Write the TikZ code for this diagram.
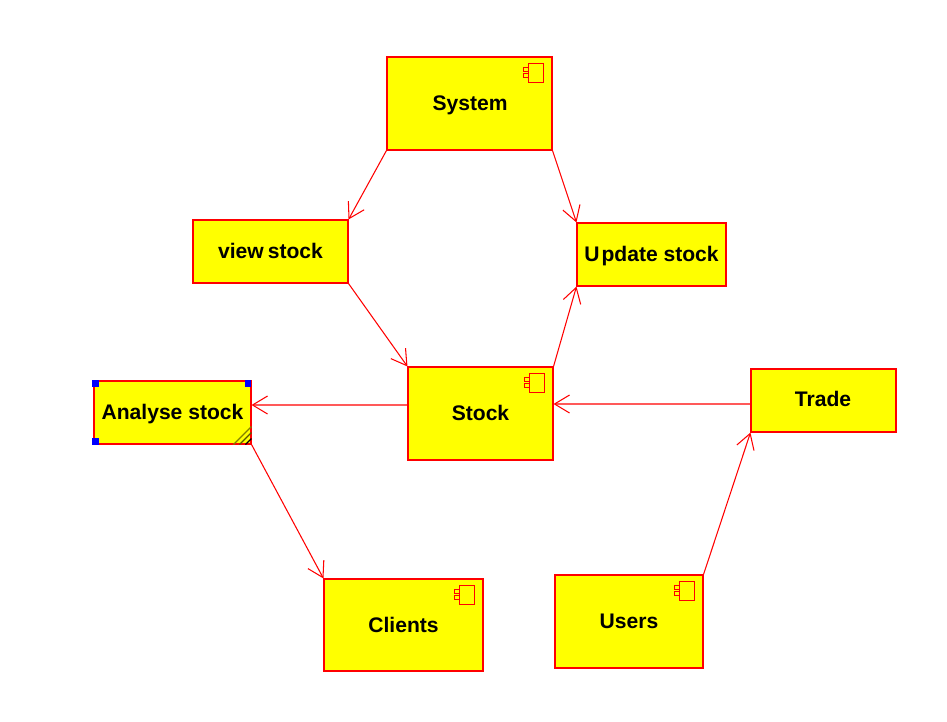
\documentclass[tikz,border=0pt]{standalone}
\usepackage{fontspec}
\setmainfont{Liberation Sans}
\usetikzlibrary{arrows.meta, positioning}
\definecolor{LinkRed}{RGB}{255,0,0}
\definecolor{BoxYellow}{RGB}{255,255,0}
\definecolor{HandleBlue}{RGB}{0,0,255}

\begin{document}
\begin{tikzpicture}
  [
    x=0.02cm, y=-0.02cm,
    Box/.style={rectangle, draw=LinkRed, fill=BoxYellow, line width=0.62pt, inner sep=0pt},
    Label/.style={inner sep=0pt, text=black, font=\fontsize{12pt}{14pt}\selectfont\bfseries},
    Link/.style={draw=LinkRed, line width=0.6pt, -{Straight Barb[length=0.3cm, width=0.36cm, line width=0.6pt]}},
    Icon/.style={draw=LinkRed, line width=0.75pt},
    Handle/.style={rectangle, fill=HandleBlue, minimum size=0.13cm, inner sep=0pt},
    Hatch/.style={line width=0.7pt}
  ]
  \useasboundingbox (0, 0) rectangle (947, 721);
  % Nodes
  \node[Box, minimum width=3.30cm, minimum height=1.86cm] (system) at(469.5, 103.5) {};
  \node[Box, minimum width=3.10cm, minimum height=1.26cm] (view) at(270.5, 251.5) {};
  \node[Box, minimum width=2.98cm, minimum height=1.26cm] (update) at(651.5, 254.5) {};
  \node[Box, minimum width=2.90cm, minimum height=1.86cm] (stock) at(480.5, 413.5) {};
  \node[Box, minimum width=3.14cm, minimum height=1.26cm] (analyse) at(172.5, 412.5) {};
  \node[Box, minimum width=2.90cm, minimum height=1.26cm] (trade) at(823.5, 400.5) {};
  \node[Box, minimum width=3.18cm, minimum height=1.84cm] (clients) at(403.5, 625) {};
  \node[Box, minimum width=2.96cm, minimum height=1.86cm] (users) at(629, 621.5) {};
  % Labels
  \node[Label] (systemtext) at(470, 105) {System};
  \node[Label] (viewtext) at(270.5, 251) {view\hspace{0.08cm}stock};
  \node[Label] (updatetext) at(651.5, 256) {U\hspace{0.04cm}pdate stock};
  \node[Label] (stocktext) at(480.5, 413) {Stock};
  \node[Label] (analysetext) at(172.5, 414.5) {Analyse stock};
  \node[Label] (tradetext) at(823, 399) {Trade};
  \node[Label] (clientstext) at(403.5, 625) {Clients};
  \node[Label] (userstext) at(629, 621) {Users};
  % Component icons
  \foreach \name in {system, stock, clients, users} {
    \draw[Icon] ([xshift=-0.48cm, yshift=-0.14cm]\name.north east) rectangle ([xshift=-0.18cm, yshift=-0.52cm]\name.north east);
    \draw[Icon] ([xshift=-0.58cm, yshift=-0.22cm]\name.north east) rectangle ([xshift=-0.48cm, yshift=-0.30cm]\name.north east);
    \draw[Icon] ([xshift=-0.58cm, yshift=-0.34cm]\name.north east) rectangle ([xshift=-0.48cm, yshift=-0.42cm]\name.north east);
  }
  % Selection marks
  \node[Handle] (handlenw) at(analyse.north west) [xshift=0.04cm, yshift=-0.06cm] {};
  \node[Handle] (handlene) at(analyse.north east) [xshift=-0.07cm, yshift=-0.06cm] {};
  \node[Handle] (handlesw) at(analyse.south west) [xshift=0.04cm, yshift=0.06cm] {};
  \draw[Hatch, draw=black!50!BoxYellow] ([xshift=-0.36cm]analyse.south east) -- ([yshift=0.36cm]analyse.south east);
  \draw[Hatch, draw=black!65!BoxYellow] ([xshift=-0.24cm]analyse.south east) -- ([yshift=0.24cm]analyse.south east);
  \draw[Hatch, draw=black] ([xshift=-0.12cm]analyse.south east) -- ([yshift=0.12cm]analyse.south east);
  % Lines
  \path[Link] (system.south west) -- (view.north east);
  \path[Link] (system.south east) -- (update.north west);
  \path[Link] (view.south east) -- (stock.north west);
  \path[Link] (stock.north east) -- (update.south west);
  \path[Link] ([yshift=0.17cm]stock.west) -- ([yshift=0.15cm]analyse.east);
  \path[Link] ([yshift=-0.07cm]trade.west) -- ([yshift=0.19cm]stock.east);
  \path[Link] (analyse.south east) -- (clients.north west);
  \path[Link] (users.north east) -- (trade.south west);
\end{tikzpicture}
\end{document}
